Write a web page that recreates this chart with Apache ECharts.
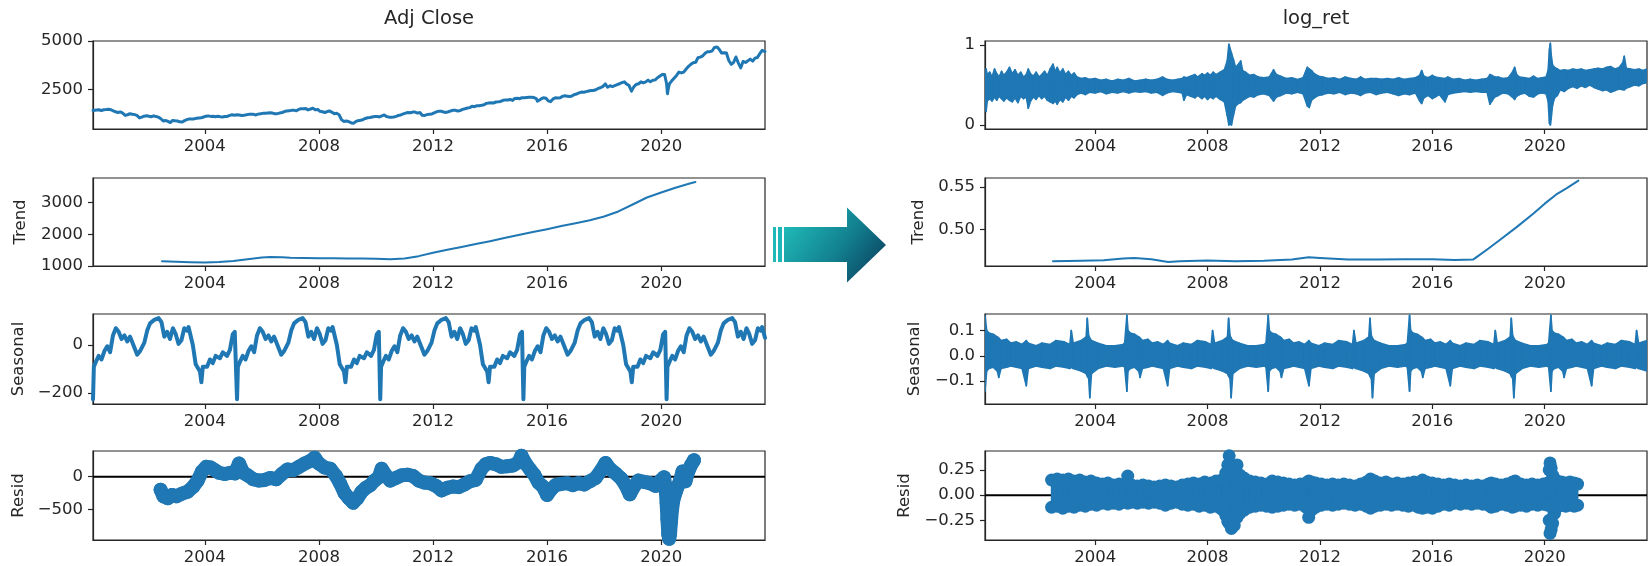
<!DOCTYPE html>
<html>
<head>
<meta charset="utf-8">
<script src="https://cdn.jsdelivr.net/npm/echarts@6/dist/echarts.min.js"></script>
<style>html,body{margin:0;padding:0;background:#fff}#c{width:1648px;height:566px}</style>
</head>
<body>
<div id="c"></div>
<script>
// ---------------- DATA ----------------
const xTickYears = [2004, 2008, 2012, 2016, 2020];
const adjTicks = [2500, 5000];
const trendLTicks = [1000, 2000, 3000];
const seasLTicks = [-200, 0];
const residLTicks = [-500, 0];
const logRetTicks = [0, 1];
const trendRTicks = [0.50, 0.55];
const seasRTicks = [-0.1, 0.0, 0.1];
const residRTicks = [-0.25, 0.00, 0.25];

// Adj Close [year, value]
const adjClose = [
[2000.08,1420],[2000.12,1370],[2000.21,1450],[2000.29,1460],[2000.37,1420],[2000.46,1460],[2000.54,1470],[2000.62,1490],[2000.71,1460],[2000.79,1400],[2000.87,1360],[2000.96,1320],
[2001.04,1350],[2001.12,1290],[2001.21,1170],[2001.29,1200],[2001.37,1260],[2001.46,1230],[2001.54,1210],[2001.62,1170],[2001.71,1040],[2001.79,1080],[2001.87,1130],[2001.96,1150],
[2002.04,1130],[2002.12,1100],[2002.21,1150],[2002.29,1110],[2002.37,1080],[2002.46,1000],[2002.54,880],[2002.62,910],[2002.71,860],[2002.79,800],[2002.87,910],[2002.96,890],
[2003.04,880],[2003.12,840],[2003.21,830],[2003.29,900],[2003.37,950],[2003.46,990],[2003.54,990],[2003.62,990],[2003.71,1020],[2003.79,1040],[2003.87,1050],[2003.96,1090],
[2004.04,1130],[2004.12,1145],[2004.21,1120],[2004.29,1125],[2004.37,1100],[2004.46,1130],[2004.54,1100],[2004.62,1090],[2004.71,1115],[2004.79,1120],[2004.87,1170],[2004.96,1200],
[2005.04,1180],[2005.12,1200],[2005.21,1190],[2005.29,1165],[2005.37,1180],[2005.46,1200],[2005.54,1225],[2005.62,1225],[2005.71,1225],[2005.79,1195],[2005.87,1235],[2005.96,1260],
[2006.04,1275],[2006.12,1280],[2006.21,1295],[2006.29,1310],[2006.37,1290],[2006.46,1255],[2006.54,1260],[2006.62,1290],[2006.71,1320],[2006.79,1370],[2006.87,1395],[2006.96,1415],
[2007.04,1430],[2007.12,1440],[2007.21,1405],[2007.29,1480],[2007.37,1510],[2007.46,1515],[2007.54,1520],[2007.62,1455],[2007.71,1500],[2007.79,1540],[2007.87,1460],[2007.96,1480],
[2008.04,1380],[2008.12,1355],[2008.21,1320],[2008.29,1370],[2008.37,1400],[2008.46,1330],[2008.54,1260],[2008.62,1280],[2008.71,1200],[2008.79,950],[2008.87,860],[2008.96,880],
[2009.04,860],[2009.12,790],[2009.18,690],[2009.21,760],[2009.29,850],[2009.37,900],[2009.46,920],[2009.54,950],[2009.62,1010],[2009.71,1050],[2009.79,1060],[2009.87,1090],[2009.96,1110],
[2010.04,1120],[2010.12,1090],[2010.21,1150],[2010.29,1195],[2010.37,1110],[2010.46,1080],[2010.54,1080],[2010.62,1090],[2010.71,1120],[2010.79,1170],[2010.87,1195],[2010.96,1245],
[2011.04,1285],[2011.12,1320],[2011.21,1305],[2011.29,1340],[2011.37,1340],[2011.46,1290],[2011.54,1320],[2011.62,1180],[2011.71,1170],[2011.79,1210],[2011.87,1230],[2011.96,1245],
[2012.04,1300],[2012.12,1350],[2012.21,1390],[2012.29,1390],[2012.37,1340],[2012.46,1325],[2012.54,1360],[2012.62,1400],[2012.71,1440],[2012.79,1430],[2012.87,1395],[2012.96,1425],
[2013.04,1480],[2013.12,1510],[2013.21,1550],[2013.29,1570],[2013.37,1640],[2013.46,1620],[2013.54,1670],[2013.62,1670],[2013.71,1690],[2013.79,1720],[2013.87,1790],[2013.96,1810],
[2014.04,1820],[2014.12,1810],[2014.21,1860],[2014.29,1870],[2014.37,1890],[2014.46,1950],[2014.54,1970],[2014.62,1960],[2014.71,1990],[2014.79,1940],[2014.87,2045],[2014.96,2055],
[2015.04,2030],[2015.12,2080],[2015.21,2080],[2015.29,2095],[2015.37,2110],[2015.46,2100],[2015.54,2090],[2015.62,2040],[2015.66,1900],[2015.71,1940],[2015.79,2020],[2015.87,2080],[2015.96,2050],
[2016.04,1920],[2016.12,1880],[2016.21,2020],[2016.29,2075],[2016.37,2065],[2016.46,2080],[2016.54,2150],[2016.62,2180],[2016.71,2160],[2016.79,2140],[2016.87,2170],[2016.96,2250],
[2017.04,2275],[2017.12,2330],[2017.21,2370],[2017.29,2360],[2017.37,2395],[2017.46,2430],[2017.54,2455],[2017.62,2455],[2017.71,2490],[2017.79,2560],[2017.87,2595],[2017.96,2665],
[2018.04,2790],[2018.08,2860],[2018.12,2620],[2018.21,2700],[2018.29,2655],[2018.37,2700],[2018.46,2755],[2018.54,2800],[2018.62,2860],[2018.71,2900],[2018.79,2780],[2018.87,2720],[2018.96,2420],
[2019.04,2640],[2019.12,2760],[2019.21,2800],[2019.29,2900],[2019.37,2850],[2019.46,2900],[2019.54,2990],[2019.62,2900],[2019.71,2980],[2019.79,3000],[2019.87,3110],[2019.96,3200],
[2020.04,3280],[2020.12,3280],[2020.16,3380],[2020.19,2800],[2020.22,2290],[2020.25,2550],[2020.29,2800],[2020.37,2950],[2020.46,3100],[2020.54,3230],[2020.62,3400],[2020.71,3360],[2020.79,3400],[2020.87,3550],[2020.96,3700],
[2021.04,3800],[2021.12,3880],[2021.21,3910],[2021.29,4140],[2021.37,4170],[2021.46,4240],[2021.54,4370],[2021.62,4450],[2021.71,4450],[2021.79,4500],[2021.87,4670],[2021.96,4690],
[2022.01,4790],[2022.04,4560],[2022.12,4380],[2022.21,4400],[2022.29,4380],[2022.37,4000],[2022.46,3800],[2022.54,3900],[2022.62,4180],[2022.71,3850],[2022.79,3620],[2022.87,3950],[2022.96,3900],
[2023.04,3980],[2023.12,4070],[2023.21,3970],[2023.29,4120],[2023.37,4150],[2023.46,4350],[2023.54,4520],[2023.60,4490],[2023.64,4460]
];

// Trend of Adj Close [year, value]
const trendAdj = [
[2002.5,1150],[2003.0,1135],[2003.5,1120],[2004.0,1110],[2004.5,1122],[2005.0,1160],[2005.5,1215],[2006.0,1265],[2006.3,1285],[2006.7,1275],
[2007.0,1262],[2007.5,1252],[2008.0,1245],[2008.5,1240],[2009.0,1238],[2009.5,1233],[2010.0,1224],[2010.5,1215],[2011.0,1235],[2011.5,1310],
[2012.0,1420],[2012.5,1510],[2013.0,1600],[2013.5,1690],[2014.0,1780],[2014.5,1880],[2015.0,1980],[2015.5,2070],[2016.0,2160],[2016.5,2260],
[2017.0,2350],[2017.5,2440],[2018.0,2560],[2018.5,2720],[2019.0,2940],[2019.5,3160],[2020.0,3320],[2020.5,3470],[2021.0,3600],[2021.2,3650]
];

// Seasonal of Adj Close [year, value]
const seasonalAdj = [
[2000.08,-225],[2000.11,-90],[2000.18,-70],[2000.28,-45],[2000.38,-60],[2000.48,-25],[2000.58,-5],[2000.68,-30],[2000.78,40],[2000.88,70],[2000.98,55],[2001.08,25],[2001.18,40],[2001.28,15],[2001.38,35],[2001.53,-10],[2001.63,-40],[2001.73,-25],[2001.88,10],[2001.98,60],[2002.08,90],[2002.23,105],[2002.38,112],[2002.48,95],[2002.58,35],[2002.68,55],[2002.78,25],[2002.88,70],[2002.98,45],[2003.08,5],[2003.18,20],[2003.28,70],[2003.38,60],[2003.43,75],[2003.58,0],[2003.68,-80],[2003.83,-110],[2003.88,-155],[2003.93,-90],[2004.08,-90],[2004.18,-60],[2004.28,-75],[2004.38,-45],[2004.53,-55],[2004.63,-30],[2004.78,-45],[2004.88,-20],[2004.98,45],[2005.05,55],
[2005.13,-225],[2005.16,-90],[2005.23,-70],[2005.33,-45],[2005.43,-60],[2005.53,-25],[2005.63,-5],[2005.73,-30],[2005.83,40],[2005.93,70],[2006.03,55],[2006.13,25],[2006.23,40],[2006.33,15],[2006.43,35],[2006.58,-10],[2006.68,-40],[2006.78,-25],[2006.93,10],[2007.03,60],[2007.13,90],[2007.28,105],[2007.43,112],[2007.53,95],[2007.63,35],[2007.73,55],[2007.83,25],[2007.93,70],[2008.03,45],[2008.13,5],[2008.23,20],[2008.33,70],[2008.43,60],[2008.48,75],[2008.63,0],[2008.73,-80],[2008.88,-110],[2008.93,-155],[2008.98,-90],[2009.13,-90],[2009.23,-60],[2009.33,-75],[2009.43,-45],[2009.58,-55],[2009.68,-30],[2009.83,-45],[2009.93,-20],[2010.03,45],[2010.10,55],
[2010.15,-225],[2010.18,-90],[2010.25,-70],[2010.35,-45],[2010.45,-60],[2010.55,-25],[2010.65,-5],[2010.75,-30],[2010.85,40],[2010.95,70],[2011.05,55],[2011.15,25],[2011.25,40],[2011.35,15],[2011.45,35],[2011.6,-10],[2011.7,-40],[2011.8,-25],[2011.95,10],[2012.05,60],[2012.15,90],[2012.3,105],[2012.45,112],[2012.55,95],[2012.65,35],[2012.75,55],[2012.85,25],[2012.95,70],[2013.05,45],[2013.15,5],[2013.25,20],[2013.35,70],[2013.45,60],[2013.5,75],[2013.65,0],[2013.75,-80],[2013.9,-110],[2013.95,-155],[2014.0,-90],[2014.15,-90],[2014.25,-60],[2014.35,-75],[2014.45,-45],[2014.6,-55],[2014.7,-30],[2014.85,-45],[2014.95,-20],[2015.05,45],[2015.12,55],
[2015.17,-225],[2015.2,-90],[2015.27,-70],[2015.37,-45],[2015.47,-60],[2015.57,-25],[2015.67,-5],[2015.77,-30],[2015.87,40],[2015.97,70],[2016.07,55],[2016.17,25],[2016.27,40],[2016.37,15],[2016.47,35],[2016.62,-10],[2016.72,-40],[2016.82,-25],[2016.97,10],[2017.07,60],[2017.17,90],[2017.32,105],[2017.47,112],[2017.57,95],[2017.67,35],[2017.77,55],[2017.87,25],[2017.97,70],[2018.07,45],[2018.17,5],[2018.27,20],[2018.37,70],[2018.47,60],[2018.52,75],[2018.67,0],[2018.77,-80],[2018.92,-110],[2018.97,-155],[2019.02,-90],[2019.17,-90],[2019.27,-60],[2019.37,-75],[2019.47,-45],[2019.62,-55],[2019.72,-30],[2019.87,-45],[2019.97,-20],[2020.07,45],[2020.14,55],
[2020.19,-225],[2020.22,-90],[2020.29,-70],[2020.39,-45],[2020.49,-60],[2020.59,-25],[2020.69,-5],[2020.79,-30],[2020.89,40],[2020.99,70],[2021.09,55],[2021.19,25],[2021.29,40],[2021.39,15],[2021.49,35],[2021.64,-10],[2021.74,-40],[2021.84,-25],[2021.99,10],[2022.09,60],[2022.19,90],[2022.34,105],[2022.49,112],[2022.59,95],[2022.69,35],[2022.79,55],[2022.89,25],[2022.99,70],[2023.09,45],[2023.19,5],[2023.29,20],[2023.39,70],[2023.49,60],[2023.54,75],[2023.64,30]
];

// Resid of Adj Close [year, value]
const residAdj = [
[2002.45,-200],[2002.55,-300],[2002.7,-330],[2002.85,-280],[2003.0,-300],[2003.2,-260],[2003.4,-230],[2003.6,-150],[2003.75,-60],[2003.9,80],[2004.05,150],[2004.2,140],[2004.35,100],[2004.5,60],[2004.7,40],[2004.9,60],[2005.05,50],[2005.2,200],[2005.35,60],[2005.5,20],[2005.7,-40],[2005.9,-60],[2006.1,-50],[2006.3,-20],[2006.5,-40],[2006.7,40],[2006.9,110],[2007.1,100],[2007.3,150],[2007.5,200],[2007.7,240],[2007.85,290],[2008.0,200],[2008.2,140],[2008.4,120],[2008.6,10],[2008.75,-110],[2008.9,-250],[2009.05,-330],[2009.2,-400],[2009.35,-330],[2009.5,-230],[2009.65,-170],[2009.8,-130],[2009.95,-60],[2010.1,-10],[2010.2,120],[2010.35,20],[2010.5,-60],[2010.7,-20],[2010.9,20],[2011.1,30],[2011.3,10],[2011.5,-60],[2011.7,-90],[2011.9,-100],[2012.1,-140],[2012.3,-210],[2012.5,-170],[2012.7,-150],[2012.9,-160],[2013.1,-120],[2013.3,-70],[2013.5,-50],[2013.7,120],[2013.85,190],[2014.0,210],[2014.2,190],[2014.4,150],[2014.6,160],[2014.8,170],[2015.0,220],[2015.1,320],[2015.25,200],[2015.4,110],[2015.55,30],[2015.7,-90],[2015.85,-150],[2016.0,-280],[2016.15,-190],[2016.3,-130],[2016.5,-110],[2016.7,-100],[2016.9,-130],[2017.1,-100],[2017.3,-120],[2017.5,-70],[2017.7,-20],[2017.9,100],[2018.05,210],[2018.2,120],[2018.4,50],[2018.6,-30],[2018.75,-130],[2018.9,-270],[2019.05,-150],[2019.2,-60],[2019.4,-80],[2019.6,-100],[2019.8,-140],[2020.0,-50],[2020.1,-10],[2020.15,-150],[2020.19,-400],[2020.22,-650],[2020.25,-880],[2020.28,-950],[2020.31,-880],[2020.34,-700],[2020.38,-500],[2020.43,-350],[2020.5,-250],[2020.58,-150],[2020.66,-60],[2020.75,80],[2020.85,-70],[2020.95,80],[2021.05,180],[2021.15,250]
];

// log_ret as a band of daily swings [year, low, high]
const logRet = [
[2000.08,0.26,0.62],[2000.12,0.17,0.70],[2000.16,0.30,0.63],[2000.25,0.33,0.66],[2000.33,0.30,0.60],[2000.42,0.35,0.70],[2000.5,0.31,0.64],[2000.58,0.36,0.60],[2000.67,0.33,0.67],[2000.75,0.30,0.62],[2000.85,0.34,0.66],[2000.95,0.31,0.72],
[2001.05,0.29,0.64],[2001.15,0.34,0.69],[2001.25,0.28,0.62],[2001.35,0.36,0.66],[2001.45,0.33,0.60],[2001.55,0.35,0.63],[2001.62,0.21,0.70],[2001.7,0.30,0.64],[2001.8,0.35,0.61],[2001.9,0.32,0.66],
[2002.0,0.37,0.60],[2002.1,0.33,0.63],[2002.2,0.36,0.67],[2002.3,0.31,0.62],[2002.4,0.29,0.70],[2002.5,0.27,0.76],[2002.58,0.30,0.67],[2002.65,0.26,0.72],[2002.75,0.32,0.65],[2002.85,0.29,0.70],[2002.95,0.35,0.63],
[2003.05,0.31,0.67],[2003.15,0.36,0.62],[2003.25,0.34,0.65],[2003.35,0.38,0.60],[2003.5,0.40,0.58],[2003.65,0.38,0.59],[2003.8,0.41,0.57],
[2004.0,0.40,0.58],[2004.2,0.42,0.56],[2004.4,0.39,0.57],[2004.6,0.41,0.55],[2004.8,0.40,0.57],[2005.0,0.42,0.56],[2005.2,0.40,0.58],[2005.4,0.42,0.55],[2005.6,0.41,0.56],[2005.8,0.42,0.57],
[2006.0,0.40,0.56],[2006.2,0.41,0.57],[2006.4,0.37,0.60],[2006.55,0.40,0.57],[2006.75,0.42,0.56],[2006.95,0.41,0.57],[2007.1,0.40,0.58],[2007.16,0.31,0.60],[2007.25,0.38,0.59],[2007.4,0.36,0.61],[2007.55,0.34,0.63],[2007.65,0.37,0.60],[2007.8,0.33,0.64],[2007.9,0.36,0.62],
[2008.0,0.32,0.65],[2008.1,0.35,0.62],[2008.2,0.33,0.66],[2008.3,0.36,0.63],[2008.45,0.32,0.66],[2008.6,0.29,0.69],[2008.7,0.12,0.80],[2008.76,0.0,1.01],[2008.8,0.02,0.96],[2008.85,0.0,0.90],[2008.92,0.12,0.82],
[2009.0,0.24,0.72],[2009.1,0.27,0.76],[2009.18,0.28,0.80],[2009.25,0.31,0.68],[2009.35,0.33,0.66],[2009.5,0.36,0.62],[2009.65,0.35,0.63],[2009.8,0.38,0.60],
[2010.0,0.39,0.59],[2010.2,0.37,0.60],[2010.35,0.30,0.69],[2010.45,0.35,0.63],[2010.6,0.37,0.61],[2010.8,0.40,0.58],[2011.0,0.39,0.59],[2011.2,0.41,0.57],[2011.4,0.39,0.59],[2011.55,0.24,0.72],[2011.62,0.22,0.70],[2011.7,0.31,0.68],[2011.8,0.34,0.64],[2011.95,0.37,0.61],
[2012.1,0.38,0.60],[2012.3,0.40,0.58],[2012.5,0.39,0.59],[2012.7,0.41,0.57],[2012.9,0.38,0.60],[2013.1,0.40,0.58],[2013.3,0.39,0.57],[2013.45,0.37,0.60],[2013.6,0.40,0.57],[2013.8,0.41,0.58],
[2014.0,0.38,0.58],[2014.2,0.40,0.57],[2014.4,0.41,0.58],[2014.6,0.39,0.57],[2014.8,0.37,0.59],[2015.0,0.39,0.57],[2015.2,0.38,0.58],[2015.4,0.40,0.59],[2015.55,0.30,0.62],[2015.62,0.27,0.68],[2015.7,0.34,0.61],[2015.85,0.37,0.59],
[2016.0,0.33,0.62],[2016.1,0.35,0.60],[2016.25,0.38,0.59],[2016.45,0.29,0.58],[2016.55,0.38,0.60],[2016.75,0.40,0.57],[2016.95,0.41,0.58],[2017.15,0.42,0.56],[2017.35,0.41,0.57],[2017.55,0.42,0.56],[2017.75,0.41,0.57],[2017.95,0.41,0.58],
[2018.05,0.26,0.63],[2018.12,0.30,0.62],[2018.22,0.35,0.60],[2018.35,0.37,0.60],[2018.5,0.40,0.58],[2018.7,0.39,0.59],[2018.85,0.35,0.66],[2018.93,0.32,0.72],[2019.0,0.36,0.63],[2019.1,0.38,0.60],[2019.3,0.40,0.59],[2019.45,0.36,0.58],[2019.6,0.35,0.61],[2019.75,0.39,0.58],[2019.9,0.40,0.59],
[2020.05,0.39,0.60],[2020.12,0.30,0.68],[2020.17,0.02,0.95],[2020.2,0.0,1.02],[2020.23,0.08,0.88],[2020.28,0.25,0.75],[2020.35,0.34,0.72],[2020.45,0.37,0.70],[2020.55,0.44,0.68],[2020.7,0.42,0.69],[2020.85,0.46,0.68],
[2021.0,0.48,0.70],[2021.15,0.46,0.69],[2021.3,0.49,0.70],[2021.45,0.47,0.68],[2021.6,0.50,0.69],[2021.75,0.47,0.70],[2021.9,0.45,0.71],[2022.05,0.43,0.70],[2022.2,0.44,0.72],[2022.35,0.41,0.73],[2022.5,0.43,0.70],[2022.65,0.45,0.72],[2022.78,0.44,0.78],[2022.83,0.44,0.86],[2022.9,0.46,0.71],
[2023.05,0.48,0.70],[2023.2,0.50,0.69],[2023.35,0.49,0.70],[2023.5,0.52,0.68],[2023.64,0.53,0.70]
];

// Trend of log_ret [year, value]
const trendLogRet = [
[2002.5,0.4632],[2003.5,0.4635],[2004.3,0.4642],[2005.0,0.4662],[2005.4,0.4668],[2006.0,0.4655],[2006.6,0.4622],[2007.0,0.4632],[2008.0,0.4638],[2009.0,0.4630],[2010.0,0.4635],[2011.0,0.4650],[2011.6,0.4678],[2012.0,0.4668],[2013.0,0.4650],[2014.0,0.4652],[2015.0,0.4655],[2016.0,0.4655],[2016.8,0.4645],[2017.46,0.4652],
[2017.6,0.4685],[2018.0,0.4780],[2018.4,0.4880],[2019.0,0.5030],[2019.6,0.5190],[2020.0,0.5305],[2020.4,0.5410],[2020.8,0.5490],[2021.2,0.5575]
];

// Seasonal of log_ret as a band [year, low, high]
const seasonalLogRet = [
[2000.08,-0.14,0.16],[2000.14,-0.06,0.10],[2000.22,-0.05,0.09],[2000.37,-0.045,0.085],[2000.52,-0.06,0.075],[2000.57,-0.085,0.07],[2000.65,-0.05,0.06],[2000.85,-0.045,0.065],[2001.0,-0.04,0.05],[2001.2,-0.045,0.055],[2001.4,-0.05,0.045],[2001.55,-0.118,0.06],[2001.62,-0.05,0.05],[2001.9,-0.04,0.04],[2002.1,-0.045,0.05],[2002.4,-0.05,0.045],[2002.6,-0.04,0.06],[2002.9,-0.045,0.055],[2003.1,-0.05,0.045],[2003.15,-0.045,0.10],[2003.22,-0.05,0.05],[2003.5,-0.06,0.06],[2003.68,-0.07,0.075],[2003.72,-0.08,0.148],[2003.77,-0.09,0.08],[2003.81,-0.165,0.07],[2003.87,-0.07,0.06],[2004.1,-0.05,0.05],[2004.4,-0.04,0.04],[2004.7,-0.045,0.04],[2005.0,-0.04,0.045],[2005.05,-0.045,0.05],
[2005.13,-0.14,0.16],[2005.17,-0.06,0.10],[2005.25,-0.05,0.09],[2005.4,-0.045,0.085],[2005.55,-0.06,0.075],[2005.6,-0.085,0.07],[2005.68,-0.05,0.06],[2005.88,-0.045,0.065],[2006.03,-0.04,0.05],[2006.23,-0.045,0.055],[2006.43,-0.05,0.045],[2006.58,-0.118,0.06],[2006.65,-0.05,0.05],[2006.93,-0.04,0.04],[2007.13,-0.045,0.05],[2007.43,-0.05,0.045],[2007.63,-0.04,0.06],[2007.93,-0.045,0.055],[2008.13,-0.05,0.045],[2008.18,-0.045,0.10],[2008.25,-0.05,0.05],[2008.53,-0.06,0.06],[2008.71,-0.07,0.075],[2008.75,-0.08,0.148],[2008.8,-0.09,0.08],[2008.84,-0.165,0.07],[2008.9,-0.07,0.06],[2009.13,-0.05,0.05],[2009.43,-0.04,0.04],[2009.73,-0.045,0.04],[2010.03,-0.04,0.045],[2010.08,-0.045,0.05],
[2010.16,-0.14,0.16],[2010.2,-0.06,0.10],[2010.28,-0.05,0.09],[2010.43,-0.045,0.085],[2010.58,-0.06,0.075],[2010.63,-0.085,0.07],[2010.71,-0.05,0.06],[2010.91,-0.045,0.065],[2011.06,-0.04,0.05],[2011.26,-0.045,0.055],[2011.46,-0.05,0.045],[2011.61,-0.118,0.06],[2011.68,-0.05,0.05],[2011.96,-0.04,0.04],[2012.16,-0.045,0.05],[2012.46,-0.05,0.045],[2012.66,-0.04,0.06],[2012.96,-0.045,0.055],[2013.16,-0.05,0.045],[2013.21,-0.045,0.10],[2013.28,-0.05,0.05],[2013.56,-0.06,0.06],[2013.74,-0.07,0.075],[2013.78,-0.08,0.148],[2013.83,-0.09,0.08],[2013.87,-0.165,0.07],[2013.93,-0.07,0.06],[2014.16,-0.05,0.05],[2014.46,-0.04,0.04],[2014.76,-0.045,0.04],[2015.06,-0.04,0.045],[2015.11,-0.045,0.05],
[2015.19,-0.14,0.16],[2015.23,-0.06,0.10],[2015.31,-0.05,0.09],[2015.46,-0.045,0.085],[2015.61,-0.06,0.075],[2015.66,-0.085,0.07],[2015.74,-0.05,0.06],[2015.94,-0.045,0.065],[2016.09,-0.04,0.05],[2016.29,-0.045,0.055],[2016.49,-0.05,0.045],[2016.64,-0.118,0.06],[2016.71,-0.05,0.05],[2016.99,-0.04,0.04],[2017.19,-0.045,0.05],[2017.49,-0.05,0.045],[2017.69,-0.04,0.06],[2017.99,-0.045,0.055],[2018.19,-0.05,0.045],[2018.24,-0.045,0.10],[2018.31,-0.05,0.05],[2018.59,-0.06,0.06],[2018.77,-0.07,0.075],[2018.81,-0.08,0.148],[2018.86,-0.09,0.08],[2018.9,-0.165,0.07],[2018.96,-0.07,0.06],[2019.19,-0.05,0.05],[2019.49,-0.04,0.04],[2019.79,-0.045,0.04],[2020.09,-0.04,0.045],[2020.14,-0.045,0.05],
[2020.22,-0.14,0.16],[2020.26,-0.06,0.10],[2020.34,-0.05,0.09],[2020.49,-0.045,0.085],[2020.64,-0.06,0.075],[2020.69,-0.085,0.07],[2020.77,-0.05,0.06],[2020.97,-0.045,0.065],[2021.12,-0.04,0.05],[2021.32,-0.045,0.055],[2021.52,-0.05,0.045],[2021.67,-0.118,0.06],[2021.74,-0.05,0.05],[2022.02,-0.04,0.04],[2022.22,-0.045,0.05],[2022.52,-0.05,0.045],[2022.72,-0.04,0.06],[2023.02,-0.045,0.055],[2023.22,-0.05,0.045],[2023.27,-0.045,0.10],[2023.34,-0.05,0.05],[2023.64,-0.06,0.06]
];

// Resid of log_ret: spread of the residual dots [year, low, high]
const residLogRet = [
[2002.45,-0.12,0.15],[2002.65,-0.11,0.16],[2002.85,-0.13,0.15],[2003.05,-0.11,0.16],[2003.25,-0.12,0.14],[2003.45,-0.10,0.15],[2003.65,-0.11,0.13],[2003.85,-0.09,0.14],[2004.05,-0.10,0.12],[2004.25,-0.08,0.11],[2004.45,-0.09,0.12],[2004.65,-0.08,0.10],[2004.85,-0.09,0.11],[2005.05,-0.07,0.10],[2005.16,-0.08,0.19],[2005.3,-0.07,0.10],[2005.5,-0.08,0.09],[2005.7,-0.07,0.10],[2005.9,-0.08,0.09],
[2006.1,-0.07,0.08],[2006.3,-0.08,0.09],[2006.5,-0.10,0.10],[2006.7,-0.08,0.09],[2006.9,-0.07,0.08],[2007.1,-0.09,0.10],[2007.3,-0.10,0.11],[2007.5,-0.09,0.12],[2007.7,-0.11,0.11],[2007.9,-0.10,0.13],[2008.1,-0.12,0.12],[2008.3,-0.11,0.14],[2008.5,-0.14,0.15],[2008.65,-0.20,0.22],[2008.72,-0.26,0.30],[2008.77,-0.28,0.39],[2008.85,-0.33,0.28],[2008.95,-0.30,0.25],
[2009.05,-0.22,0.30],[2009.15,-0.18,0.20],[2009.3,-0.15,0.17],[2009.5,-0.12,0.14],[2009.7,-0.11,0.13],[2009.9,-0.10,0.12],[2010.1,-0.11,0.11],[2010.3,-0.12,0.14],[2010.5,-0.11,0.13],[2010.7,-0.10,0.12],[2010.9,-0.09,0.11],[2011.1,-0.10,0.10],[2011.3,-0.09,0.11],[2011.5,-0.12,0.12],[2011.6,-0.22,0.14],[2011.7,-0.15,0.13],[2011.85,-0.12,0.12],
[2012.05,-0.10,0.11],[2012.25,-0.09,0.10],[2012.45,-0.10,0.11],[2012.65,-0.09,0.10],[2012.85,-0.08,0.11],[2013.05,-0.09,0.10],[2013.25,-0.10,0.09],[2013.45,-0.09,0.11],[2013.65,-0.11,0.13],[2013.8,-0.13,0.16],[2013.95,-0.11,0.14],[2014.15,-0.10,0.12],[2014.35,-0.09,0.13],[2014.55,-0.10,0.11],[2014.75,-0.09,0.12],[2014.95,-0.10,0.11],
[2015.15,-0.11,0.12],[2015.35,-0.10,0.13],[2015.5,-0.12,0.12],[2015.65,-0.13,0.15],[2015.8,-0.12,0.13],[2016.0,-0.13,0.12],[2016.2,-0.11,0.11],[2016.4,-0.09,0.10],[2016.6,-0.10,0.11],[2016.8,-0.08,0.10],[2017.0,-0.09,0.09],[2017.2,-0.08,0.10],[2017.4,-0.09,0.09],[2017.6,-0.08,0.10],[2017.8,-0.09,0.09],
[2018.0,-0.10,0.11],[2018.1,-0.12,0.12],[2018.25,-0.11,0.11],[2018.45,-0.09,0.10],[2018.65,-0.10,0.11],[2018.85,-0.12,0.13],[2018.95,-0.11,0.14],[2019.15,-0.10,0.11],[2019.35,-0.11,0.10],[2019.55,-0.09,0.11],[2019.75,-0.10,0.10],[2019.95,-0.09,0.11],
[2020.1,-0.10,0.12],[2020.16,-0.25,0.25],[2020.19,-0.38,0.32],[2020.23,-0.34,0.27],[2020.28,-0.28,0.20],[2020.35,-0.18,0.16],[2020.45,-0.12,0.14],[2020.6,-0.10,0.13],[2020.75,-0.11,0.12],[2020.9,-0.10,0.13],[2021.05,-0.11,0.12],[2021.17,-0.10,0.11]
];

// ---------------- CHART ----------------
const BLUE = '#1f77b4';
const INK = '#262626';
const FONT = 'DejaVu Sans';
const X_MIN = 2000.08, X_MAX = 2023.64;

function fmt(dec) {
  return function (v) {
    const s = Math.abs(v).toFixed(dec);
    return (v < -1e-12 ? '\u2212' : '') + s;
  };
}

const panels = [
  {left: 93,  top: 41,  width: 672, height: 88, min: 470,    max: 5003,  ticks: adjTicks,    dec: 0, name: '',         gap: 0},
  {left: 93,  top: 178, width: 672, height: 88, min: 999,    max: 3776,  ticks: trendLTicks, dec: 0, name: 'Trend',    gap: 64},
  {left: 93,  top: 314, width: 672, height: 90, min: -245,   max: 129,   ticks: seasLTicks,  dec: 0, name: 'Seasonal', gap: 66},
  {left: 93,  top: 451, width: 672, height: 89, min: -968,   max: 392,   ticks: residLTicks, dec: 0, name: 'Resid',    gap: 66},
  {left: 985, top: 41,  width: 662, height: 88, min: -0.05,  max: 1.05,  ticks: logRetTicks, dec: 0, name: '',         gap: 0},
  {left: 985, top: 178, width: 662, height: 88, min: 0.4575, max: 0.5605,ticks: trendRTicks, dec: 2, name: 'Trend',    gap: 58},
  {left: 985, top: 314, width: 662, height: 90, min: -0.19,  max: 0.165, ticks: seasRTicks,  dec: 1, name: 'Seasonal', gap: 62},
  {left: 985, top: 451, width: 662, height: 89, min: -0.445, max: 0.438, ticks: residRTicks, dec: 2, name: 'Resid',    gap: 72}
];

const labelStyle = {fontFamily: FONT, fontSize: 16.5, color: INK};

const grid = panels.map(p => ({
  left: p.left, top: p.top, width: p.width, height: p.height,
  show: true, borderColor: INK, borderWidth: 1.2, backgroundColor: 'transparent'
}));

const xAxis = panels.map((p, i) => ({
  gridIndex: i, type: 'value', min: X_MIN, max: X_MAX,
  axisLine: {show: true, onZero: false, lineStyle: {color: INK, width: 1.2}},
  axisTick: {show: true, customValues: xTickYears, length: 5, inside: false, lineStyle: {color: INK, width: 1.2}},
  axisLabel: Object.assign({customValues: xTickYears, margin: 9, formatter: v => String(Math.round(v))}, labelStyle),
  splitLine: {show: false}
}));

const yAxis = panels.map((p, i) => ({
  gridIndex: i, type: 'value', min: p.min, max: p.max,
  name: p.name, nameLocation: 'middle', nameGap: p.gap, nameRotate: 90,
  nameTextStyle: labelStyle,
  axisLine: {show: true, onZero: false, lineStyle: {color: INK, width: 1.2}},
  axisTick: {show: true, customValues: p.ticks, length: 5, inside: false, lineStyle: {color: INK, width: 1.2}},
  axisLabel: Object.assign({customValues: p.ticks, margin: 10, formatter: fmt(p.dec)}, labelStyle),
  splitLine: {show: false}
}));

function lineSeries(idx, data, width) {
  return {type: 'line', xAxisIndex: idx, yAxisIndex: idx, data: data, showSymbol: false, symbol: 'none',
          lineStyle: {color: BLUE, width: width, join: 'round', cap: 'round'}, itemStyle: {color: BLUE}, clip: true, z: 3};
}

function bandSeries(idx, rows) {
  return {
    type: 'custom', xAxisIndex: idx, yAxisIndex: idx, clip: true, z: 3,
    data: rows, encode: {x: 0, y: [1, 2]},
    renderItem: function (params, api) {
      const i = params.dataIndex;
      if (i >= rows.length - 1) return null;
      const n = rows[i + 1];
      const a = api.coord([api.value(0), api.value(2)]);
      const b = api.coord([n[0], n[2]]);
      const c = api.coord([n[0], n[1]]);
      const d = api.coord([api.value(0), api.value(1)]);
      return {type: 'polygon', shape: {points: [a, b, c, d]},
              style: {fill: BLUE, stroke: BLUE, lineWidth: 1.6, lineJoin: 'round'}};
    }
  };
}

// horizontal zero reference line spanning the axis range, drawn behind the residuals
function zeroLine(idx) {
  return {type: 'line', xAxisIndex: idx, yAxisIndex: idx, data: [[X_MIN, 0], [X_MAX, 0]],
          showSymbol: false, symbol: 'none', silent: true, z: 1,
          lineStyle: {color: '#000', width: 2}};
}

const series = [
  lineSeries(0, adjClose, 3),
  lineSeries(1, trendAdj, 2),
  lineSeries(2, seasonalAdj, 4),
  zeroLine(3),
  lineSeries(3, residAdj, 14),
  {type: 'scatter', xAxisIndex: 3, yAxisIndex: 3, data: residAdj, symbol: 'circle', symbolSize: 14,
   itemStyle: {color: BLUE, opacity: 1}, clip: true, z: 4},
  bandSeries(4, logRet),
  lineSeries(5, trendLogRet, 2),
  bandSeries(6, seasonalLogRet),
  zeroLine(7),
  bandSeries(7, residLogRet),
  {type: 'scatter', xAxisIndex: 7, yAxisIndex: 7,
   data: residLogRet.map(r => [r[0], r[2]]).concat(residLogRet.map(r => [r[0], r[1]])),
   symbol: 'circle', symbolSize: 13, itemStyle: {color: BLUE, opacity: 1}, clip: true, z: 4}
];

const chart = echarts.init(document.getElementById('c'), null, {renderer: 'canvas'});
chart.setOption({
  animation: false,
  backgroundColor: '#ffffff',
  title: [
    {text: 'Adj Close', left: 429, top: 9, textAlign: 'center', padding: 0,
     textStyle: {fontFamily: FONT, fontSize: 19.5, fontWeight: 'normal', color: INK}},
    {text: 'log_ret', left: 1316, top: 9, textAlign: 'center', padding: 0,
     textStyle: {fontFamily: FONT, fontSize: 19.5, fontWeight: 'normal', color: INK}}
  ],
  grid: grid, xAxis: xAxis, yAxis: yAxis, series: series,
  graphic: [
    {type: 'rect', shape: {x: 773, y: 227, width: 3, height: 35}, style: {fill: '#1fb9b9'}, silent: true},
    {type: 'rect', shape: {x: 778, y: 227, width: 4, height: 35}, style: {fill: '#1db7b8'}, silent: true},
    {type: 'polygon', silent: true,
     shape: {points: [[784, 227], [847, 227], [847, 207.5], [886, 245], [847, 282.5], [847, 262], [784, 262]]},
     style: {fill: new echarts.graphic.LinearGradient(0, 0, 1, 1, [
       {offset: 0, color: '#22c4c0'}, {offset: 0.55, color: '#12808f'}, {offset: 1, color: '#0a3558'}])}}
  ]
});
</script>
</body>
</html>
